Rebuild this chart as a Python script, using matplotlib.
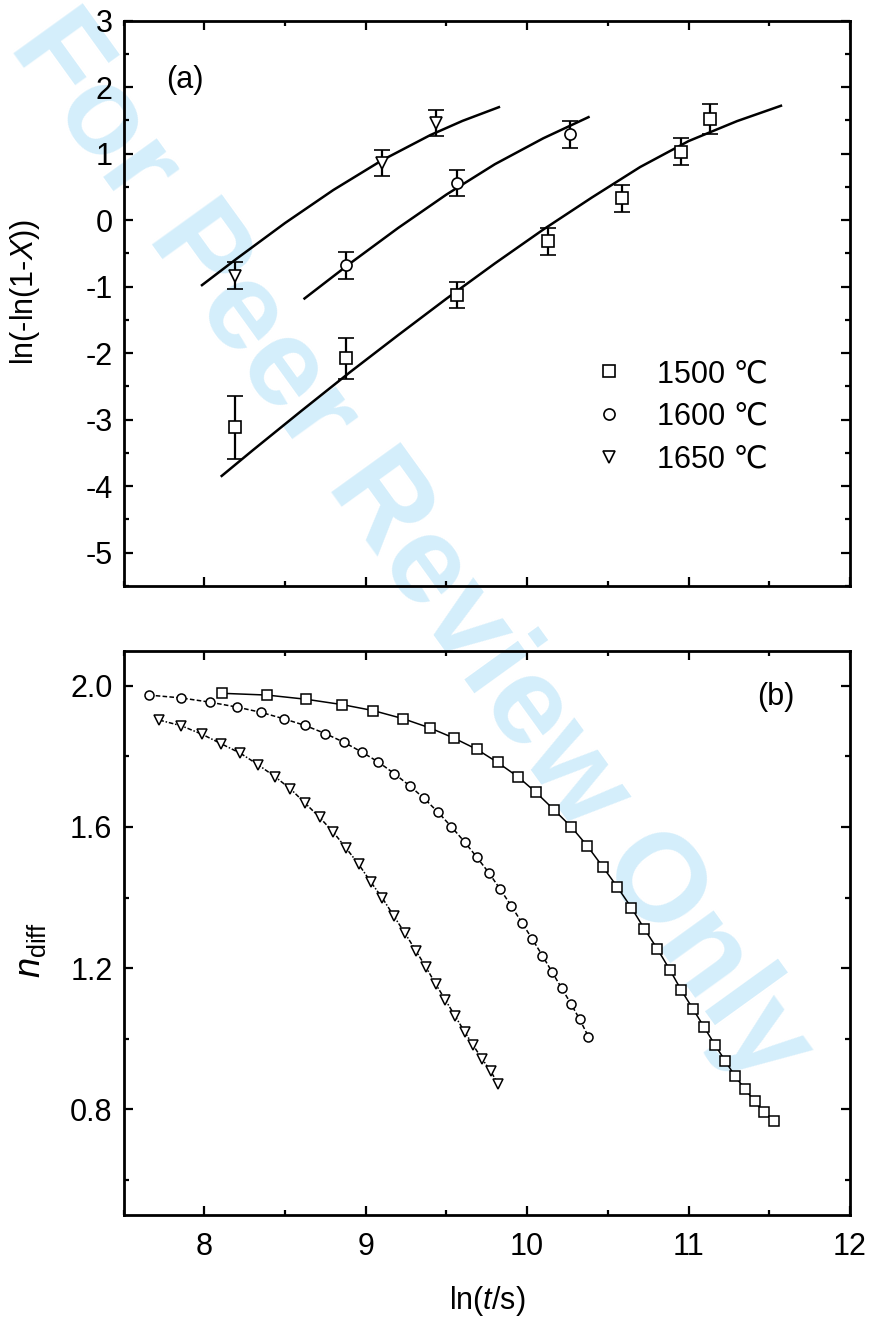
import numpy as np
import matplotlib
matplotlib.use("Agg")
import matplotlib.pyplot as plt
from matplotlib.ticker import MultipleLocator

plt.rcParams["font.family"] = ["Liberation Sans", "DejaVu Sans"]
plt.rcParams["axes.unicode_minus"] = False
plt.rcParams["mathtext.fontset"] = "custom"
plt.rcParams["mathtext.rm"] = "Liberation Sans"
plt.rcParams["mathtext.it"] = "Liberation Sans:italic"
fontsize = 22

################################################################
# (a) measured points with error bars
t_1500 = [8.188, 8.877, 9.568, 10.129, 10.585, 10.955, 11.131]
y_1500 = [-3.116, -2.078, -1.125, -0.316, 0.327, 1.032, 1.520]
e_1500 = [0.47, 0.31, 0.20, 0.20, 0.20, 0.20, 0.23]
t_1600 = [8.877, 9.568, 10.263]
y_1600 = [-0.678, 0.562, 1.290]
e_1600 = [0.20, 0.20, 0.20]
t_1650 = [8.188, 9.099, 9.437]
y_1650 = [-0.832, 0.860, 1.462]
e_1650 = [0.20, 0.20, 0.20]

# (a) fitted curves
fit_t_1500 = [8.108, 8.30, 8.60, 8.90, 9.20, 9.50, 9.80, 10.10, 10.40, 10.70, 11.00, 11.30, 11.572]
fit_y_1500 = [-3.845, -3.46, -2.87, -2.29, -1.73, -1.18, -0.65, -0.14, 0.34, 0.80, 1.19, 1.49, 1.721]
fit_t_1600 = [8.621, 8.90, 9.20, 9.50, 9.80, 10.10, 10.38]
fit_y_1600 = [-1.177, -0.655, -0.118, 0.386, 0.842, 1.232, 1.55]
fit_t_1650 = [7.986, 8.20, 8.50, 8.80, 9.10, 9.40, 9.60, 9.825]
fit_y_1650 = [-0.976, -0.58, -0.043, 0.455, 0.90, 1.28, 1.494, 1.70]

# (b) local exponent n_diff
nt_1500 = [8.111, 8.389, 8.633, 8.854, 9.047, 9.232, 9.397, 9.547, 9.689, 9.817,
           9.944, 10.055, 10.166, 10.274, 10.373, 10.467, 10.557, 10.646, 10.725, 10.807,
           10.884, 10.955, 11.026, 11.097, 11.165, 11.227, 11.287, 11.349, 11.409, 11.466, 11.53]
n_1500 = [1.979, 1.974, 1.962, 1.947, 1.930, 1.907, 1.881, 1.852, 1.820, 1.783,
          1.742, 1.698, 1.649, 1.600, 1.546, 1.488, 1.431, 1.371, 1.312, 1.254,
          1.195, 1.137, 1.085, 1.032, 0.981, 0.937, 0.894, 0.857, 0.823, 0.791, 0.767]
nt_1600 = [7.657, 7.855, 8.034, 8.202, 8.352, 8.491, 8.624, 8.749, 8.866, 8.974,
           9.079, 9.178, 9.272, 9.362, 9.448, 9.530, 9.612, 9.689, 9.763, 9.834,
           9.902, 9.967, 10.032, 10.095, 10.154, 10.214, 10.271, 10.325, 10.379]
n_1600 = [1.974, 1.966, 1.954, 1.940, 1.925, 1.907, 1.888, 1.865, 1.840, 1.813,
          1.784, 1.751, 1.717, 1.681, 1.642, 1.601, 1.558, 1.514, 1.470, 1.423,
          1.376, 1.329, 1.282, 1.235, 1.189, 1.143, 1.099, 1.055, 1.006]
nt_1650 = [7.722, 7.858, 7.986, 8.105, 8.224, 8.332, 8.437, 8.534, 8.624, 8.715,
           8.798, 8.877, 8.957, 9.030, 9.104, 9.175, 9.243, 9.311, 9.374, 9.433,
           9.493, 9.555, 9.612, 9.666, 9.720, 9.774, 9.822]
n_1650 = [1.903, 1.887, 1.863, 1.836, 1.809, 1.777, 1.743, 1.708, 1.668, 1.627,
          1.586, 1.541, 1.494, 1.445, 1.398, 1.347, 1.299, 1.249, 1.202, 1.155,
          1.110, 1.063, 1.020, 0.981, 0.943, 0.908, 0.870]

labels = ["1500 \u2103", "1600 \u2103", "1650 \u2103"]
markers = ["s", "o", "v"]
################################################################

fig = plt.figure(figsize=(8.73, 13.27), dpi=100)
fig.patch.set_facecolor("white")
fig.text(410/873, 1-548/1327, "For Peer Review Only", fontsize=90, fontweight="bold",
         color="#d4eefb", rotation=-54.2, rotation_mode="anchor", ha="center", va="center",
         zorder=-1)

ax1 = fig.add_axes([0.1415, 0.5584, 0.8322, 0.4260])
ax2 = fig.add_axes([0.1415, 0.0844, 0.8322, 0.4253])

mk = dict(mfc="white", mec="black", mew=1.2, ms=8, ls="none")
for ts, ys, es, m, lab in zip([t_1500, t_1600, t_1650], [y_1500, y_1600, y_1650],
                              [e_1500, e_1600, e_1650], markers, labels):
    ax1.errorbar(ts, ys, yerr=es, fmt=m, capsize=5.5, capthick=1.6, elinewidth=1.6,
                 ecolor="black", zorder=3, **mk)
for ts, ys in zip([fit_t_1500, fit_t_1600, fit_t_1650], [fit_y_1500, fit_y_1600, fit_y_1650]):
    ax1.plot(ts, ys, color="black", lw=1.8, zorder=2)

handles = [ax1.plot([], [], marker=m, label=lab, **mk)[0] for m, lab in zip(markers, labels)]
ax1.legend(handles=handles, loc="center left", bbox_to_anchor=(0.6476, 0.299), frameon=False,
           handlelength=1.0, handletextpad=1.06, labelspacing=0.42, borderpad=0,
           borderaxespad=0, fontsize=fontsize)
ax1.text(0.0585, 0.895, "(a)", transform=ax1.transAxes, fontsize=fontsize, ha="left", va="center")
ax1.set_ylim(-5.5, 3)
ax1.yaxis.set_major_locator(MultipleLocator(1))
ax1.yaxis.set_minor_locator(MultipleLocator(0.5))
ax1.set_ylabel("ln(-ln(1-$X$))", fontsize=fontsize)
ax1.yaxis.set_label_coords(-0.112, 0.52)
ax1.tick_params(labelbottom=False)

mk2 = dict(mfc="white", mec="black", mew=1.1, ms=6.5, color="black", lw=1.1)
ax2.plot(nt_1500, n_1500, marker="s", ls="-", **mk2)
ax2.plot(nt_1600, n_1600, marker="o", ls=(0, (3, 1.5)), **mk2)
ax2.plot(nt_1650, n_1650, marker="v", ls=(0, (3, 1.2, 1, 1.2)), **mk2)
ax2.text(0.872, 0.918, "(b)", transform=ax2.transAxes, fontsize=fontsize, ha="left", va="center")
ax2.set_ylim(0.5, 2.1)
ax2.yaxis.set_major_locator(MultipleLocator(0.4))
ax2.yaxis.set_minor_locator(MultipleLocator(0.2))
ax2.set_yticks([0.8, 1.2, 1.6, 2.0])
ax2.set_yticklabels(["0.8", "1.2", "1.6", "2.0"])
ax2.set_ylabel("$n_{\\mathrm{diff}}$", fontsize=fontsize + 4)
ax2.yaxis.set_label_coords(-0.104, 0.47)
ax2.set_xlabel("ln($t$/s)", fontsize=fontsize, labelpad=16)

for ax in [ax1, ax2]:
    ax.set_facecolor("none")
    ax.set_xlim(7.5, 12)
    ax.xaxis.set_major_locator(MultipleLocator(1))
    ax.xaxis.set_minor_locator(MultipleLocator(0.5))
    for s in ax.spines.values():
        s.set_linewidth(2)
    ax.tick_params(which="both", direction="in", top=True, right=True, width=1.6,
                   labelsize=fontsize)
    ax.tick_params(which="major", length=6.5)
    ax.tick_params(which="minor", length=3.8)
    ax.tick_params(axis="x", pad=12)
    ax.tick_params(axis="y", pad=8)

fig.savefig("out.png", dpi=100)
